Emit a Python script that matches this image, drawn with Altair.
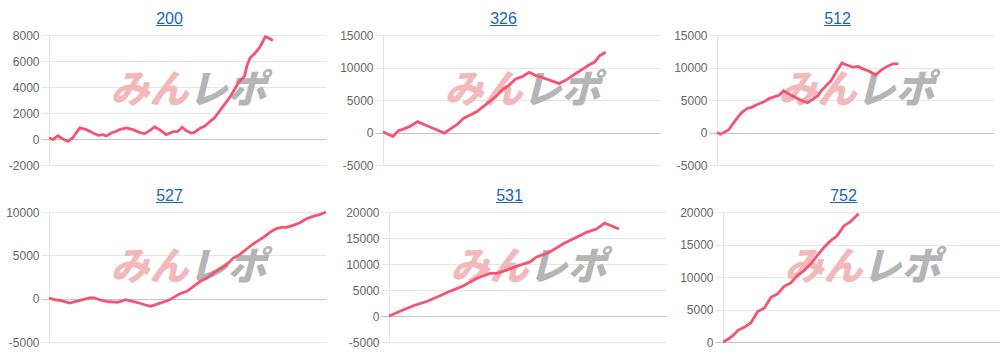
import altair as alt
import pandas as pd

# ---------------- data ----------------
titles = ["200", "326", "512", "527", "531", "752"]

x_200 = [0.0, 1.4, 3.2, 5.0, 6.9, 8.7, 11.1, 13.5, 15.9, 17.7, 19.5, 20.7, 22.5, 24.3, 25.5, 27.9,
         30.3, 32.7, 34.5, 36.3, 38.1, 39.9, 42.3, 44.7, 46.5, 48.1, 49.5, 51.3, 52.5, 54.3, 56.1,
         57.9, 59.7, 61.5, 63.3, 65.1, 66.9, 68.8, 70.6, 71.4, 72.6, 74.2, 76.0, 78.1, 79.0, 80.8]
y_200 = [100, -50, 250, 0, -180, 130, 850, 720, 460, 280, 330, 230, 460, 590, 720, 850,
         720, 510, 410, 640, 930, 720, 330, 540, 590, 900, 640, 460, 510, 800, 980,
         1310, 1620, 2130, 2650, 3160, 3800, 4450, 4830, 5600, 6250, 6560, 7020, 7870, 7800, 7580]
ticks_200 = [-2000, 0, 2000, 4000, 6000, 8000]

x_326 = [0, 1.8, 3.6, 5.5, 7.3, 9.7, 12.5, 15.2, 17.6, 20.0, 22.2, 24.2, 26.7, 29.1, 31.5, 33.9,
         36.4, 38.2, 40.6, 43.0, 45.5, 47.9, 50.3, 52.7, 55.2, 57.6, 60.0, 62.4, 63.6, 66.1, 67.9,
         69.7, 72.1, 73.9, 76.4, 78.2, 80.4]
y_326 = [100, -260, -620, 260, 520, 940, 1670, 1150, 730, 310, -100, 520, 1200, 2190, 2710, 3230,
         4060, 4690, 5470, 6510, 7290, 8230, 8590, 9270, 8750, 8440, 8070, 7710, 7550, 8070, 8590,
         9110, 9740, 10260, 10830, 11820, 12340]
ticks_326 = [-5000, 0, 5000, 10000, 15000]

x_512 = [0, 1.2, 2.7, 4.2, 5.5, 7.3, 9.1, 10.9, 12.7, 14.5, 17.0, 18.8, 20.6, 22.4, 24.0, 26.1,
         28.5, 30.9, 32.7, 34.5, 36.4, 37.6, 39.4, 41.2, 43.0, 45.1, 47.3, 49.1, 50.9, 52.7, 55.2,
         57.2, 59.4, 61.6, 63.6, 65.5]
y_512 = [0, -260, 50, 420, 1200, 2240, 3130, 3700, 3910, 4320, 4740, 5210, 5470, 5730, 6410, 5890,
         5360, 4840, 4580, 5100, 5630, 6410, 7190, 7970, 9270, 10680, 10310, 10050, 10160, 9790, 9380,
         8850, 9640, 10210, 10570, 10570]
ticks_512 = [-5000, 0, 5000, 10000, 15000]

x_527 = [0, 2.0, 4.4, 7.4, 9.8, 12.2, 14.6, 16.4, 18.2, 20.5, 22.9, 24.7, 27.7, 30.1, 32.5, 34.9,
         36.7, 38.5, 40.9, 43.2, 45.0, 47.4, 49.8, 52.2, 54.6, 57.0, 59.4, 61.8, 64.2, 66.5, 68.9,
         71.3, 73.7, 76.1, 77.9, 79.7, 82.1, 83.9, 85.7, 88.1, 90.4, 92.8, 95.2, 97.6, 100]
y_527 = [80, -120, -230, -500, -310, -120, 80, 80, -120, -310, -380, -420, -120, -310, -500, -730,
         -880, -690, -420, -190, 150, 580, 850, 1420, 2000, 2380, 2960, 3460, 3920, 4690, 5080,
         5730, 6310, 6810, 7190, 7650, 8080, 8230, 8230, 8460, 8730, 9190, 9500, 9690, 10000]
ticks_527 = [-5000, 0, 5000, 10000]

x_531 = [0, 4.2, 9.0, 13.8, 17.4, 22.2, 26.9, 31.7, 36.5, 38.9, 42.5, 47.3, 50.9, 53.3, 58.1,
         62.9, 67.7, 71.3, 74.9, 77.8, 80.2, 83.0]
y_531 = [0, 950, 2020, 2840, 3660, 4790, 5800, 7260, 8200, 8200, 8830, 9780, 10410, 11360, 12300,
         13880, 15140, 16090, 16720, 17850, 17350, 16720]
ticks_531 = [-5000, 0, 5000, 10000, 15000, 20000]

x_752 = [0, 1.8, 3.6, 5.4, 7.8, 10.1, 12.5, 14.9, 17.3, 19.7, 22.1, 24.5, 26.8, 29.2, 31.6, 34.0,
         36.4, 38.8, 41.2, 43.6, 45.9, 48.9]
y_752 = [0, 410, 1020, 1790, 2300, 2960, 4690, 5200, 6890, 7400, 8570, 9080, 10200, 10970, 11990,
         13270, 14540, 15560, 16330, 17860, 18470, 19740]
ticks_752 = [0, 5000, 10000, 15000, 20000]

xs = [x_200, x_326, x_512, x_527, x_531, x_752]
ys = [y_200, y_326, y_512, y_527, y_531, y_752]
ticks = [ticks_200, ticks_326, ticks_512, ticks_527, ticks_531, ticks_752]

# ---------------- styling ----------------
W, H = 277, 130
LINE = "#f35471"
TITLE_COLOR = "#1a63c0"
FONT = "Liberation Sans"
TITLE_DX = -18
UNDERLINE_HALF = 13.5


def panel(title, x, y, tk):
    df = pd.DataFrame({"x": x, "y": y})
    one = pd.DataFrame({"k": [0]})
    yscale = alt.Scale(domain=[tk[0], tk[-1]], nice=False, zero=False)
    yaxis = alt.Axis(
        values=tk, title=None,
        labelExpr="'' + datum.value",
        labelColor="#666666", labelFont=FONT, labelFontSize=12, labelPadding=2,
        tickSize=8,
        tickColor={"condition": {"test": "datum.value === 0", "value": "#c4c4c4"}, "value": "#e6e6e6"},
        gridColor={"condition": {"test": "datum.value === 0", "value": "#c4c4c4"}, "value": "#e6e6e6"},
        domainColor="#e2e2e2",
        minExtent=44, maxExtent=44,
    )
    wm_left = alt.Chart(one).mark_text(
        text="みん", font="Noto Sans CJK JP", fontSize=39, fontWeight=900, fontStyle="italic",
        color="#f1b9b9", align="right", baseline="middle",
    ).encode(x=alt.value(W / 2 + 1), y=alt.value(H / 2 - 9))
    wm_right = alt.Chart(one).mark_text(
        text="レポ", font="Noto Sans CJK JP", fontSize=39, fontWeight=900, fontStyle="italic",
        color="#b5b5b5", align="left", baseline="middle",
    ).encode(x=alt.value(W / 2 + 1), y=alt.value(H / 2 - 9))
    title_mark = alt.Chart(one).mark_text(
        text=title, font=FONT, fontSize=16, color=TITLE_COLOR,
        align="center", baseline="alphabetic",
    ).encode(x=alt.value(W / 2 + TITLE_DX), y=alt.value(-11.5))
    underline = alt.Chart(one).mark_rule(color=TITLE_COLOR, strokeWidth=1).encode(
        x=alt.value(W / 2 + TITLE_DX - UNDERLINE_HALF),
        x2=alt.value(W / 2 + TITLE_DX + UNDERLINE_HALF),
        y=alt.value(-9.5),
    )
    line = alt.Chart(df).mark_line(color=LINE, strokeWidth=2.8).encode(
        x=alt.X("x:Q", scale=alt.Scale(domain=[0, 100], nice=False, zero=False), axis=None),
        y=alt.Y("y:Q", scale=yscale, axis=yaxis),
    )
    return alt.layer(wm_left, wm_right, title_mark, underline, line).properties(width=W, height=H)


panels = [panel(t, x, y, tk) for t, x, y, tk in zip(titles, xs, ys, ticks)]

row1 = alt.hconcat(*panels[:3], spacing=13)
row2 = alt.hconcat(*panels[3:], spacing=13)

chart = alt.vconcat(row1, row2, spacing=16).properties(
    padding={"left": 5, "top": 10, "right": 0, "bottom": 0},
    background="white",
).configure_view(stroke=None)

chart.save("out.html", embed_options={"renderer": "svg", "actions": False})
